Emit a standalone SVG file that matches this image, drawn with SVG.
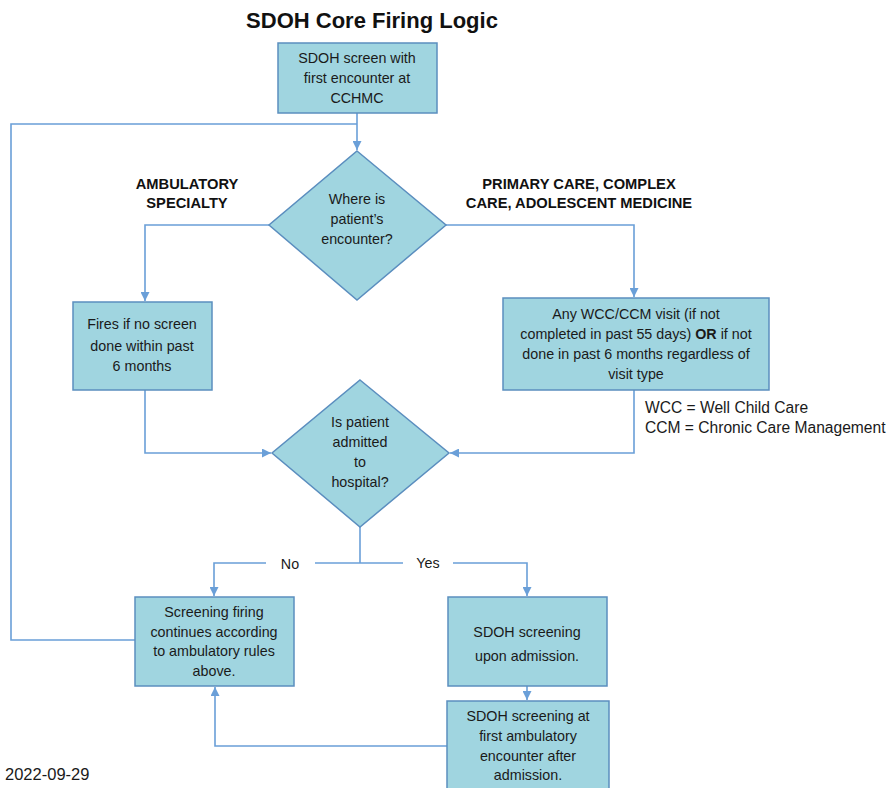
<svg xmlns="http://www.w3.org/2000/svg" width="894" height="788" viewBox="0 0 894 788">
<style>
.box{fill:#A0D5E0;stroke:#5B8EBF;stroke-width:1.5}
.t{font-family:"Liberation Sans",Arial,sans-serif;font-size:14.3px;fill:#1a1a1a;text-anchor:middle}
.lbl{font-family:"Liberation Sans",Arial,sans-serif;font-size:14.3px;fill:#1a1a1a}
.leg{font-family:"Liberation Sans",Arial,sans-serif;font-size:15.6px;fill:#1a1a1a}
.b{font-family:"Liberation Sans",Arial,sans-serif;font-size:14.7px;font-weight:bold;fill:#111;text-anchor:middle}
.c{fill:none;stroke:#6A9FD8;stroke-width:1.6}
</style>
<defs>
<marker id="ah" viewBox="0 0 10 10" refX="10" refY="5" markerWidth="9" markerHeight="9" markerUnits="userSpaceOnUse" orient="auto">
<path d="M0,0 L10,5 L0,10 z" fill="#6A9FD8"/>
</marker>
</defs>
<rect width="894" height="788" fill="#ffffff"/>
<text x="372" y="28" font-family="'Liberation Sans',Arial,sans-serif" font-size="22" font-weight="bold" fill="#111" text-anchor="middle">SDOH Core Firing Logic</text>

<g id="connectors">
<path class="c" d="M136,640 H11 V124 H357"/>
<path class="c" d="M357,113 V150" marker-end="url(#ah)"/>
<path class="c" d="M269,225 H145 V301" marker-end="url(#ah)"/>
<path class="c" d="M446,225 H634 V297" marker-end="url(#ah)"/>
<path class="c" d="M145,390 V453 H271" marker-end="url(#ah)"/>
<path class="c" d="M634,390 V453 H450" marker-end="url(#ah)"/>
<path class="c" d="M360,527 V563"/>
<path class="c" d="M266,563 H214 V596" marker-end="url(#ah)"/>
<path class="c" d="M315,563 H403"/>
<path class="c" d="M453,563 H527 V596" marker-end="url(#ah)"/>
<path class="c" d="M527,686 V700" marker-end="url(#ah)"/>
<path class="c" d="M447,746 H215 V687" marker-end="url(#ah)"/>
<text class="lbl" x="290" y="569" text-anchor="middle">No</text>
<text class="lbl" x="428" y="568" text-anchor="middle">Yes</text>
</g>

<g id="start">
<rect class="box" x="278" y="43" width="159" height="70"/>
<text class="t" x="357" y="63">SDOH screen with</text>
<text class="t" x="357" y="83">first encounter at</text>
<text class="t" x="357" y="103">CCHMC</text>
</g>

<g id="decision1">
<polygon class="box" points="357,151 446,225 357,300 269,225"/>
<text class="t" x="357" y="204">Where is</text>
<text class="t" x="357" y="224">patient’s</text>
<text class="t" x="357" y="244">encounter?</text>
</g>

<g id="label-ambulatory">
<text class="b" x="187" y="189">AMBULATORY</text>
<text class="b" x="187" y="208">SPECIALTY</text>
</g>

<g id="label-primary">
<text class="b" x="579" y="189">PRIMARY CARE, COMPLEX</text>
<text class="b" x="579" y="208">CARE, ADOLESCENT MEDICINE</text>
</g>

<g id="ambulatory-rule">
<rect class="box" x="73" y="302" width="139" height="88"/>
<text class="t" x="142" y="329">Fires if no screen</text>
<text class="t" x="142" y="351">done within past</text>
<text class="t" x="142" y="371">6 months</text>
</g>

<g id="primary-rule">
<rect class="box" x="503" y="298" width="266" height="92"/>
<text class="t" x="636" y="319">Any WCC/CCM visit (if not</text>
<text class="t" x="636" y="339">completed in past 55 days) <tspan font-weight="bold">OR</tspan> if not</text>
<text class="t" x="636" y="359">done in past 6 months regardless of</text>
<text class="t" x="636" y="379">visit type</text>
</g>

<g id="legend">
<text class="leg" x="645" y="413">WCC = Well Child Care</text>
<text class="leg" x="645" y="433">CCM = Chronic Care Management</text>
</g>

<g id="decision2">
<polygon class="box" points="360,380 449,453 360,527 272,453"/>
<text class="t" x="360" y="427">Is patient</text>
<text class="t" x="360" y="447">admitted</text>
<text class="t" x="360" y="467">to</text>
<text class="t" x="360" y="487">hospital?</text>
</g>

<g id="no-box">
<rect class="box" x="135" y="597" width="159" height="89"/>
<text class="t" x="214" y="617">Screening firing</text>
<text class="t" x="214" y="637">continues according</text>
<text class="t" x="214" y="656">to ambulatory rules</text>
<text class="t" x="214" y="676">above.</text>
</g>

<g id="yes-box">
<rect class="box" x="448" y="597" width="159" height="89"/>
<text class="t" x="527" y="637">SDOH screening</text>
<text class="t" x="527" y="661">upon admission.</text>
</g>

<g id="after-box">
<rect class="box" x="447" y="701" width="162" height="92"/>
<text class="t" x="528" y="721">SDOH screening at</text>
<text class="t" x="528" y="741">first ambulatory</text>
<text class="t" x="528" y="761">encounter after</text>
<text class="t" x="528" y="780">admission.</text>
</g>

<text x="5" y="780" font-family="'Liberation Sans',Arial,sans-serif" font-size="16.5" fill="#1a1a1a">2022-09-29</text>
</svg>
